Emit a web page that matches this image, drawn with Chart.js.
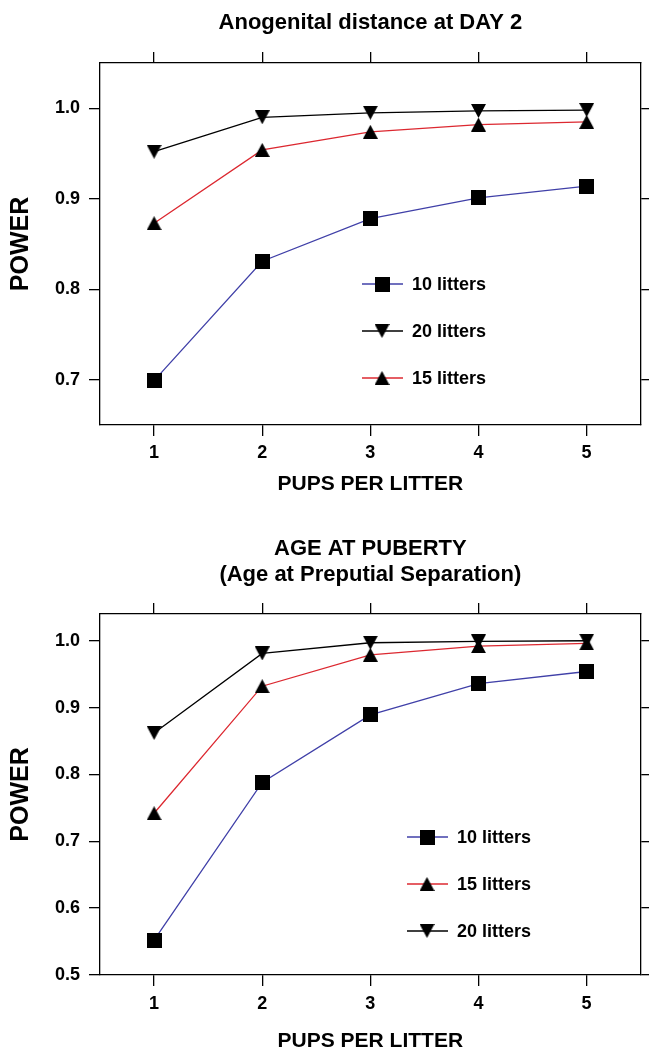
<!DOCTYPE html>
<html>
<head>
<meta charset="utf-8">
<script src="https://cdn.jsdelivr.net/npm/chart.js@4.4.0/dist/chart.umd.min.js"></script>
<style>
  html, body { margin: 0; padding: 0; background: #fff; }
  canvas { display: block; }
</style>
</head>
<body>
<canvas id="agdChart" width="649" height="520"></canvas>
<canvas id="ppsChart" width="649" height="532"></canvas>
<script>
// pups per litter (x axis)
const pupsPerLitter = [1, 2, 3, 4, 5];

// Anogenital distance at DAY 2
const agdTitle = 'Anogenital distance at DAY 2';
const agd10 = [0.699, 0.831, 0.878, 0.901, 0.914];
const agd15 = [0.873, 0.954, 0.974, 0.982, 0.985];
const agd20 = [0.952, 0.990, 0.995, 0.997, 0.998];
const agdYTicks = [0.7, 0.8, 0.9, 1.0];

// Age at puberty (preputial separation)
const ppsTitle = ['AGE AT PUBERTY', '(Age at Preputial Separation)'];
const pps10 = [0.552, 0.788, 0.889, 0.936, 0.954];
const pps15 = [0.742, 0.932, 0.979, 0.992, 0.996];
const pps20 = [0.862, 0.981, 0.997, 0.999, 1.000];
const ppsYTicks = [0.5, 0.6, 0.7, 0.8, 0.9, 1.0];

const seriesLabels = ['10 litters', '15 litters', '20 litters'];

const BLUE = 'rgb(64,64,168)';
const RED = 'rgb(220,40,48)';
const BLACK = '#000';
const FONT = "'Liberation Sans', Arial, Helvetica, sans-serif";

Chart.defaults.font.family = FONT;
Chart.defaults.font.weight = 'bold';
Chart.defaults.color = '#000';

function marker(kind) {
  const c = document.createElement('canvas');
  const ctx = c.getContext('2d');
  ctx.fillStyle = '#000';
  if (kind === 'square') {
    c.width = 15; c.height = 15;
    ctx.fillRect(0, 0, 15, 15);
  } else {
    c.width = 15; c.height = 14;
    ctx.beginPath();
    if (kind === 'up') {
      ctx.moveTo(7.5, 0); ctx.lineTo(15, 14); ctx.lineTo(0, 14);
    } else {
      ctx.moveTo(0, 0); ctx.lineTo(15, 0); ctx.lineTo(7.5, 14);
    }
    ctx.closePath();
    ctx.fill();
  }
  return c;
}

const markers = { square: marker('square'), up: marker('up'), down: marker('down') };

function points(values) {
  return pupsPerLitter.map((x, i) => ({ x: x, y: values[i] }));
}

function series(label, values, color, mk) {
  return {
    label: label,
    data: points(values),
    borderColor: color,
    backgroundColor: color,
    borderWidth: 1.3,
    tension: 0,
    fill: false,
    pointStyle: markers[mk],
    pointRadius: 7,
    pointHoverRadius: 7
  };
}

// legend drawn inside the plot area
const inlineLegend = {
  id: 'inlineLegend',
  afterDatasetsDraw(chart, args, opts) {
    const ctx = chart.ctx;
    ctx.save();
    opts.order.forEach((di, row) => {
      const ds = chart.data.datasets[di];
      const y = opts.y + row * opts.gap;
      ctx.strokeStyle = ds.borderColor;
      ctx.lineWidth = 1.3;
      ctx.beginPath();
      ctx.moveTo(opts.x, y);
      ctx.lineTo(opts.x + 41, y);
      ctx.stroke();
      const img = ds.pointStyle;
      ctx.drawImage(img, opts.x + 20 - img.width / 2, y - img.height / 2);
      ctx.fillStyle = '#000';
      ctx.font = 'bold 18px ' + FONT;
      ctx.textBaseline = 'middle';
      ctx.textAlign = 'left';
      ctx.fillText(ds.label, opts.x + 50, y + 1);
    });
    ctx.restore();
  }
};

function fixedTicks(list) {
  return function (scale) {
    scale.ticks = list.map(v => ({ value: v }));
  };
}

function axisGrid() {
  return { drawOnChartArea: false, drawTicks: true, tickLength: 11, color: '#000', lineWidth: 1.3 };
}
const axisBorder = { display: true, color: '#000', width: 1.3 };

function drawPowerChart(id, cfg) {
  const ctx = document.getElementById(id).getContext('2d');
  return new Chart(ctx, {
    type: 'line',
    data: { datasets: cfg.datasets },
    options: {
      responsive: false,
      animation: false,
      events: [],
      layout: { padding: 0 },
      plugins: {
        legend: { display: false },
        tooltip: { enabled: false },
        title: {
          display: true,
          fullSize: false,
          text: cfg.title,
          font: { size: 22, weight: 'bold', lineHeight: cfg.titleLineHeight },
          color: '#000',
          padding: cfg.titlePadding
        },
        inlineLegend: cfg.legend
      },
      scales: {
        x: {
          type: 'linear',
          position: 'bottom',
          min: 0.5,
          max: 5.5,
          afterBuildTicks: fixedTicks(pupsPerLitter),
          afterFit: s => { s.height = cfg.xHeight; },
          grid: axisGrid(),
          border: axisBorder,
          ticks: { font: { size: 18, weight: 'bold' }, padding: cfg.xTickPad, color: '#000' },
          title: {
            display: true,
            text: 'PUPS PER LITTER',
            font: { size: 21, weight: 'bold', lineHeight: 1 },
            color: '#000',
            padding: { top: 0, bottom: cfg.xTitlePad }
          }
        },
        x2: {
          type: 'linear',
          position: 'top',
          min: 0.5,
          max: 5.5,
          afterBuildTicks: fixedTicks(pupsPerLitter),
          afterFit: s => { s.height = 20; },
          grid: axisGrid(),
          border: axisBorder,
          ticks: { display: false }
        },
        y: {
          type: 'linear',
          position: 'left',
          min: cfg.yMin,
          max: cfg.yMax,
          afterBuildTicks: fixedTicks(cfg.yTicks),
          afterFit: s => { s.width = 100; },
          grid: axisGrid(),
          border: axisBorder,
          ticks: {
            font: { size: 18, weight: 'bold' },
            padding: 9,
            color: '#000',
            callback: v => Number(v).toFixed(1)
          },
          title: {
            display: true,
            text: 'POWER',
            font: { size: 25, weight: 'bold', lineHeight: 1 },
            color: '#000',
            padding: { top: 9, bottom: 0 }
          }
        },
        y2: {
          type: 'linear',
          position: 'right',
          min: cfg.yMin,
          max: cfg.yMax,
          afterBuildTicks: fixedTicks(cfg.yTicks),
          afterFit: s => { s.width = 8; },
          grid: axisGrid(),
          border: axisBorder,
          ticks: { display: false }
        }
      }
    },
    plugins: [inlineLegend]
  });
}

drawPowerChart('agdChart', {
  title: agdTitle,
  titleLineHeight: 1,
  titlePadding: { top: 12, bottom: 9 },
  datasets: [
    series(seriesLabels[0], agd10, BLUE, 'square'),
    series(seriesLabels[1], agd15, RED, 'up'),
    series(seriesLabels[2], agd20, BLACK, 'down')
  ],
  yMin: 0.65,
  yMax: 1.05,
  yTicks: agdYTicks,
  xHeight: 95,
  xTickPad: 6,
  xTitlePad: 25,
  legend: { x: 362, y: 284, gap: 47, order: [0, 2, 1] }
});

drawPowerChart('ppsChart', {
  title: ppsTitle,
  titleLineHeight: '26px',
  titlePadding: { top: 16, bottom: 6 },
  datasets: [
    series(seriesLabels[0], pps10, BLUE, 'square'),
    series(seriesLabels[1], pps15, RED, 'up'),
    series(seriesLabels[2], pps20, BLACK, 'down')
  ],
  yMin: 0.5,
  yMax: 1.04,
  yTicks: ppsYTicks,
  xHeight: 77,
  xTickPad: 7,
  xTitlePad: 0,
  legend: { x: 407, y: 317, gap: 47, order: [0, 1, 2] }
});
</script>
</body>
</html>
